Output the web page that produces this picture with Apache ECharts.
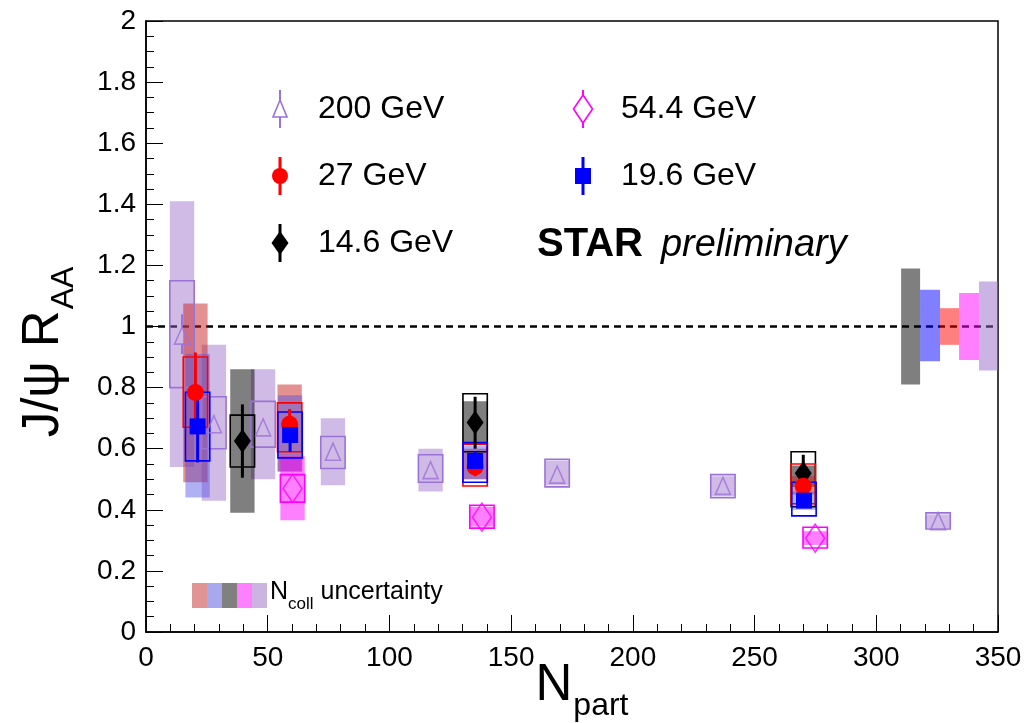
<!DOCTYPE html>
<html>
<head>
<meta charset="utf-8">
<script src="https://cdn.jsdelivr.net/npm/echarts@6/dist/echarts.min.js"></script>
<style>
  html, body { margin: 0; padding: 0; background: #fff; }
  #chart { width: 1033px; height: 723px; }
</style>
</head>
<body>
<div id="chart"></div>
<script>
// half width of the uncertainty boxes, in Npart units
const HW = 5;
const FONT = '"Liberation Sans", Arial, sans-serif';

// 200 GeV
const npart200 = [14.8, 27.9, 48.1, 76.8, 116.9, 168.9, 237.0, 325.4];
const raa200 = [0.97, 0.68, 0.67, 0.59, 0.53, 0.515, 0.478, 0.363];
const stat200 = [[0.91, 1.04], [0.65, 0.71], [0.64, 0.70], [0.565, 0.615], [0.505, 0.555], [0.49, 0.54], [0.455, 0.50], [0.345, 0.38]];
const sys200 = [[0.80, 1.15], [0.60, 0.77], [0.605, 0.755], [0.535, 0.64], [0.49, 0.58], [0.475, 0.565], [0.44, 0.515], [0.337, 0.39]];
const band200 = [[0.54, 1.41], [0.43, 0.94], [0.50, 0.86], [0.48, 0.70], [0.46, 0.60], [0.48, 0.56], [0.445, 0.51], [0.34, 0.385]];

// 27 GeV
const npart27 = [20.3, 59.0, 135.2, 270.0];
const raa27 = [0.784, 0.68, 0.54, 0.477];
const stat27 = [[0.65, 0.915], [0.63, 0.73], [0.51, 0.58], [0.44, 0.52]];
const sys27 = [[0.67, 0.90], [0.59, 0.75], [0.478, 0.615], [0.42, 0.55]];
const band27 = [[0.49, 1.075], [0.525, 0.81], [0.50, 0.60], [0.45, 0.51]];

// 19.6 GeV
const npart19 = [21.2, 59.2, 135.2, 270.3];
const raa19 = [0.673, 0.645, 0.56, 0.43];
const stat19 = [[0.555, 0.79], [0.59, 0.70], [0.53, 0.59], [0.41, 0.45]];
const sys19 = [[0.56, 0.785], [0.57, 0.72], [0.49, 0.62], [0.38, 0.49]];
const band19 = [[0.44, 0.91], [0.525, 0.775], [0.50, 0.61], [0.40, 0.46]];

// 14.6 GeV
const npart14 = [39.6, 135.2, 270.0];
const raa14 = [0.625, 0.686, 0.52];
const stat14 = [[0.505, 0.745], [0.60, 0.77], [0.47, 0.58]];
const sys14 = [[0.54, 0.71], [0.59, 0.78], [0.41, 0.59]];
const band14 = [[0.39, 0.86], [0.615, 0.755], [0.475, 0.545]];

// 54.4 GeV
const npart54 = [60.2, 138.0, 274.9];
const raa54 = [0.47, 0.376, 0.307];
const stat54 = [[0.44, 0.50], [0.35, 0.40], [0.28, 0.335]];
const sys54 = [[0.425, 0.515], [0.34, 0.415], [0.275, 0.343]];
const band54 = [[0.366, 0.575], [0.345, 0.41], [0.285, 0.33]];

// Ncoll uncertainty boxes at RAA = 1 (14.6, 19.6, 27, 54.4, 200)
const ncollX = [[310.2, 318.0], [318.0, 326.2], [326.2, 334.0], [334.0, 342.2], [342.2, 350.0]];
const ncollY = [[0.81, 1.19], [0.886, 1.12], [0.94, 1.06], [0.89, 1.11], [0.856, 1.147]];
const ncollColors = ['rgba(0,0,0,0.5)', 'rgba(0,0,255,0.5)', 'rgba(255,0,0,0.5)', 'rgba(255,0,255,0.5)', 'rgba(150,105,200,0.5)'];

const sets = [
  { name: '200 GeV', x: npart200, y: raa200, stat: stat200, sys: sys200, band: band200,
    color: '#9b72d6', fill: 'rgba(150,105,200,0.45)', symbol: 'triangle', size: [15, 17], open: true, errW: 2, gap: 9 },
  { name: '14.6 GeV', x: npart14, y: raa14, stat: stat14, sys: sys14, band: band14,
    color: '#000', fill: 'rgba(0,0,0,0.5)', symbol: 'diamond', size: [17, 24], open: false, errW: 3, gap: 0 },
  { name: '27 GeV', x: npart27, y: raa27, stat: stat27, sys: sys27, band: band27,
    color: '#ff0000', fill: 'rgba(200,35,35,0.5)', symbol: 'circle', size: 17, open: false, errW: 3, gap: 0 },
  { name: '19.6 GeV', x: npart19, y: raa19, stat: stat19, sys: sys19, band: band19,
    color: '#0000ff', fill: 'rgba(80,80,230,0.45)', symbol: 'rect', size: 16, open: false, errW: 3, gap: 0 },
  { name: '54.4 GeV', x: npart54, y: raa54, stat: stat54, sys: sys54, band: band54,
    color: '#ff00ff', fill: 'rgba(255,0,255,0.5)', symbol: 'diamond', size: [19, 28], open: true, errW: 2, gap: 14 }
];

function rectItem(filled, color) {
  return function (params, api) {
    const x = api.value(0);
    const p1 = api.coord([x - HW, api.value(2)]);
    const p2 = api.coord([x + HW, api.value(1)]);
    return {
      type: 'rect',
      shape: { x: p1[0], y: p1[1], width: p2[0] - p1[0], height: p2[1] - p1[1] },
      style: filled ? { fill: color } : { fill: 'none', stroke: color, lineWidth: 1.6 }
    };
  };
}

// stat error bar, left open where a hollow marker sits
function errItem(set) {
  return function (params, api) {
    const x = api.value(0);
    const c = api.coord([x, api.value(3)]);
    const lo = api.coord([x, api.value(1)]);
    const hi = api.coord([x, api.value(2)]);
    const style = { stroke: set.color, lineWidth: set.errW };
    return {
      type: 'group',
      children: [
        { type: 'line', shape: { x1: c[0], y1: hi[1], x2: c[0], y2: Math.max(hi[1], c[1] - set.gap) }, style },
        { type: 'line', shape: { x1: c[0], y1: Math.min(lo[1], c[1] + set.gap), x2: c[0], y2: lo[1] }, style }
      ]
    };
  };
}

const series = [];
sets.forEach((s) => {
  series.push({
    type: 'custom', name: s.name + ' band', z: 1, silent: true,
    renderItem: rectItem(true, s.fill),
    encode: { x: 0, y: [1, 2] },
    data: s.x.map((x, i) => [x, s.band[i][0], s.band[i][1]])
  });
});
sets.forEach((s) => {
  series.push({
    type: 'custom', name: s.name + ' sys', z: 2, silent: true,
    renderItem: rectItem(false, s.color),
    encode: { x: 0, y: [1, 2] },
    data: s.x.map((x, i) => [x, s.sys[i][0], s.sys[i][1]])
  });
});
series.push({
  type: 'custom', name: 'Ncoll', z: 2, silent: true,
  renderItem: function (params, api) {
    const p1 = api.coord([api.value(0), api.value(3)]);
    const p2 = api.coord([api.value(1), api.value(2)]);
    return {
      type: 'rect',
      shape: { x: p1[0], y: p1[1], width: p2[0] - p1[0], height: p2[1] - p1[1] },
      style: { fill: ncollColors[params.dataIndex] }
    };
  },
  data: ncollX.map((x, i) => [x[0], x[1], ncollY[i][0], ncollY[i][1]]),
  markLine: {
    silent: true, symbol: 'none', label: { show: false }, z: 1,
    lineStyle: { color: '#000', width: 2.5, type: [7, 5] },
    data: [{ yAxis: 1 }]
  }
});
sets.forEach((s) => {
  series.push({
    type: 'custom', name: s.name + ' stat', z: 3, silent: true,
    renderItem: errItem(s),
    encode: { x: 0, y: [1, 2] },
    data: s.x.map((x, i) => [x, s.stat[i][0], s.stat[i][1], s.y[i]])
  });
});
sets.forEach((s) => {
  series.push({
    type: 'scatter', name: s.name, z: 4, silent: true,
    symbol: s.symbol, symbolSize: s.size,
    itemStyle: s.open
      ? { color: 'rgba(0,0,0,0)', borderColor: s.color, borderWidth: 1.6 }
      : { color: s.color, opacity: 1 },
    data: s.x.map((x, i) => [x, s.y[i]])
  });
});

// legend, drawn by hand like the ROOT one
function legendMarker(s, x, y) {
  const els = [{
    type: 'line', z: 10,
    shape: { x1: x, y1: y - 19, x2: x, y2: y + 19 },
    style: { stroke: s.color, lineWidth: s.errW }
  }];
  const fill = s.open ? '#fff' : s.color;
  const st = { fill: fill, stroke: s.color, lineWidth: s.open ? 1.6 : 0 };
  if (s.symbol === 'circle') {
    els.push({ type: 'circle', z: 11, shape: { cx: x, cy: y, r: 8 }, style: st });
  } else if (s.symbol === 'rect') {
    els.push({ type: 'rect', z: 11, shape: { x: x - 8, y: y - 8, width: 16, height: 16 }, style: st });
  } else if (s.symbol === 'triangle') {
    els.push({ type: 'polygon', z: 11, shape: { points: [[x, y - 9], [x + 7, y + 8], [x - 7, y + 8]] }, style: st });
  } else {
    const w = s.size[0] / 2, h = s.size[1] / 2;
    els.push({ type: 'polygon', z: 11, shape: { points: [[x, y - h], [x + w, y], [x, y + h], [x - w, y]] }, style: st });
  }
  return els;
}

const legendPos = {
  '200 GeV': [280, 109], '27 GeV': [280, 176], '14.6 GeV': [280, 243],
  '54.4 GeV': [583, 109], '19.6 GeV': [583, 176]
};

const graphic = [];
sets.forEach((s) => {
  const p = legendPos[s.name];
  legendMarker(s, p[0], p[1]).forEach((e) => graphic.push(e));
  graphic.push({
    type: 'text', z: 11, x: p[0] + 38, y: p[1],
    style: { text: s.name, fontSize: 32, fontFamily: FONT, fill: '#000', verticalAlign: 'middle' }
  });
});

graphic.push({
  type: 'text', z: 11, x: 537, y: 245,
  style: {
    text: '{b|STAR}{i|preliminary}', verticalAlign: 'middle', fill: '#000',
    rich: {
      b: { fontSize: 40, fontWeight: 'bold', fontFamily: FONT, fill: '#000' },
      i: { fontSize: 38, fontStyle: 'italic', fontFamily: FONT, fill: '#000', padding: [0, 0, 0, 18] }
    }
  }
});

// Ncoll legend
['#e09494', '#a8a8ec', '#808080', '#ff80ff', '#cbb4e2'].forEach((c, i) => {
  graphic.push({ type: 'rect', z: 11, shape: { x: 192 + 15 * i, y: 583, width: 15, height: 25 }, style: { fill: c } });
});
graphic.push({
  type: 'text', z: 11, x: 270, y: 594,
  style: {
    text: '{m|N}{s|coll}{m| uncertainty}', verticalAlign: 'middle', fill: '#000',
    rich: {
      m: { fontSize: 25, lineHeight: 28, verticalAlign: 'top', fontFamily: FONT, fill: '#000' },
      s: { fontSize: 17, lineHeight: 17, padding: [16, 0, 0, 0], verticalAlign: 'top', fontFamily: FONT, fill: '#000' }
    }
  }
});

// axis titles
const titleRich = {
  m: { fontSize: 51, lineHeight: 56, verticalAlign: 'top', fontFamily: FONT, fill: '#000' },
  s: { fontSize: 32, lineHeight: 32, padding: [30, 0, 0, 1], verticalAlign: 'top', fontFamily: FONT, fill: '#000' }
};
graphic.push({
  type: 'text', z: 11, x: 46, y: 352, rotation: Math.PI / 2,
  style: { text: '{m|J/ψ R}{s|AA}', align: 'center', verticalAlign: 'middle', fill: '#000', rich: titleRich }
});
graphic.push({
  type: 'text', z: 11, x: 582, y: 688,
  style: { text: '{m|N}{s|part}', align: 'center', verticalAlign: 'middle', fill: '#000', rich: titleRich }
});

const chart = echarts.init(document.getElementById('chart'));
chart.setOption({
  animation: false,
  backgroundColor: '#fff',
  grid: { left: 146, right: 35, top: 21, bottom: 91, show: true, borderColor: '#000', borderWidth: 1.5, backgroundColor: 'transparent' },
  xAxis: {
    type: 'value', min: 0, max: 350, interval: 50,
    axisLine: { show: true, onZero: false, lineStyle: { color: '#000', width: 1.5 } },
    axisTick: { show: true, inside: true, length: 17, lineStyle: { color: '#000', width: 1 } },
    minorTick: { show: true, splitNumber: 5, length: 8, lineStyle: { color: '#000', width: 1 } },
    splitLine: { show: false },
    axisLabel: { fontSize: 28, color: '#000', fontFamily: FONT, margin: 12 }
  },
  yAxis: {
    type: 'value', min: 0, max: 2, interval: 0.2,
    axisLine: { show: true, onZero: false, lineStyle: { color: '#000', width: 1.5 } },
    axisTick: { show: true, inside: true, length: 17, lineStyle: { color: '#000', width: 1 } },
    minorTick: { show: true, splitNumber: 4, length: 8, lineStyle: { color: '#000', width: 1 } },
    splitLine: { show: false },
    axisLabel: { fontSize: 28, color: '#000', fontFamily: FONT, margin: 10 }
  },
  graphic: graphic,
  series: series
});
</script>
</body>
</html>
